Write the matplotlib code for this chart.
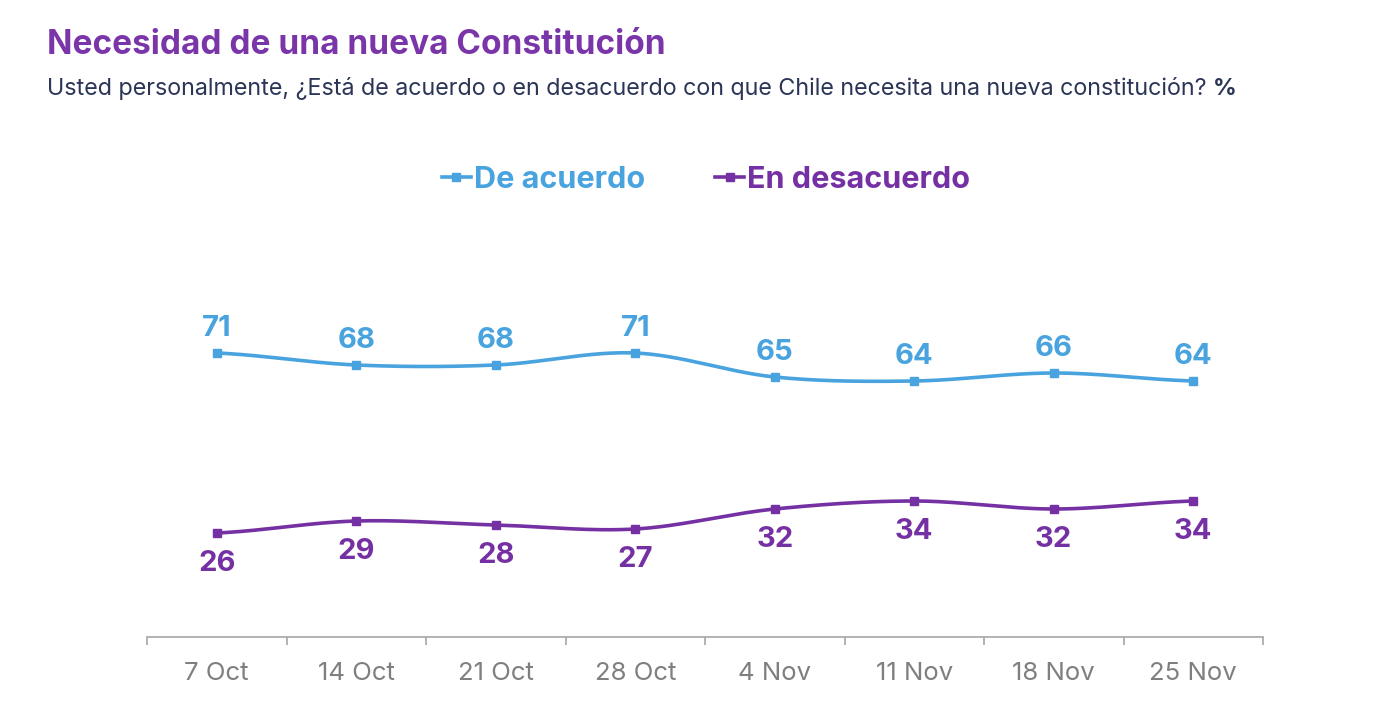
import numpy as np
import matplotlib
matplotlib.use("Agg")
import matplotlib.pyplot as plt
from matplotlib.lines import Line2D

plt.rcParams["font.family"] = ["Inter", "DejaVu Sans"]

dates = ["7 Oct", "14 Oct", "21 Oct", "28 Oct", "4 Nov", "11 Nov", "18 Nov", "25 Nov"]
de_acuerdo = [71, 68, 68, 71, 65, 64, 66, 64]
en_desacuerdo = [26, 29, 28, 27, 32, 34, 32, 34]

BLUE = "#48A3DE"
PURPLE = "#7531A3"
TITLE = "#7A35A8"
NAVY = "#2B3556"
GREY = "#7F7F7F"


def smooth(xs, ys, n=30):
    # catmull-rom through the points, just for the curved look
    xs = np.asarray(xs, float)
    ys = np.asarray(ys, float)
    px = np.concatenate([[2 * xs[0] - xs[1]], xs, [2 * xs[-1] - xs[-2]]])
    py = np.concatenate([[ys[0]], ys, [ys[-1]]])
    out_x, out_y = [], []
    t = np.linspace(0, 1, n)
    for i in range(1, len(px) - 2):
        for p, out in ((px, out_x), (py, out_y)):
            p0, p1, p2, p3 = p[i - 1], p[i], p[i + 1], p[i + 2]
            out.extend(0.5 * ((2 * p1) + (-p0 + p2) * t
                              + (2 * p0 - 5 * p1 + 4 * p2 - p3) * t ** 2
                              + (-p0 + 3 * p1 - 3 * p2 + p3) * t ** 3))
    return out_x, out_y


fig = plt.figure(figsize=(13.78, 7.11), dpi=100)
ax = fig.add_axes([147 / 1378, (711 - 637) / 711, 1116 / 1378, 400 / 711])

x = np.arange(len(dates))
for vals, col, off, va in ((de_acuerdo, BLUE, 8, "bottom"), (en_desacuerdo, PURPLE, -12, "top")):
    sx, sy = smooth(x, vals)
    ax.plot(sx, sy, color=col, lw=2.6, solid_capstyle="round")
    ax.plot(x, vals, ls="none", marker="s", ms=6, color=col)
    for xi, v in zip(x, vals):
        ax.annotate(str(v), (xi, v), xytext=(0, off), textcoords="offset points",
                    ha="center", va=va, fontsize=21, fontweight="bold", color=col)

ax.set_xlim(-0.5, len(dates) - 0.5)
ax.set_ylim(0, 100)
ax.set_xticks(np.arange(len(dates) + 1) - 0.5)
ax.set_xticklabels([])
ax.set_xticks(x, minor=True)
ax.set_xticklabels(dates, minor=True)
ax.tick_params(axis="x", which="major", length=6, width=1.2, color="#A6A6A6")
ax.tick_params(axis="x", which="minor", length=0, pad=18, labelsize=18.5, labelcolor=GREY)
ax.set_yticks([])
for s in ("top", "right", "left"):
    ax.spines[s].set_visible(False)
ax.spines["bottom"].set_color("#A6A6A6")
ax.spines["bottom"].set_linewidth(1.2)

fig.text(47 / 1378, 1 - 45 / 711, "Necesidad de una nueva Constitución", fontsize=24,
         fontweight="bold", color=TITLE, va="center", ha="left")
t = fig.text(47 / 1378, 1 - 89 / 711,
             "Usted personalmente, ¿Está de acuerdo o en desacuerdo con que Chile necesita una nueva constitución? ",
             fontsize=16.8, color=NAVY, va="center", ha="left")
fig.canvas.draw()
bb = t.get_window_extent()
fig.text(bb.x1 / 1378, 1 - 89 / 711, "%", fontsize=16.8, fontweight="bold",
         color=NAVY, va="center", ha="left")

handles = [Line2D([], [], color=BLUE, lw=2.6, marker="s", ms=6),
           Line2D([], [], color=PURPLE, lw=2.6, marker="s", ms=6)]
leg = fig.legend(handles, ["De acuerdo", "En desacuerdo"], loc="center",
                 bbox_to_anchor=(706 / 1378, 1 - 180 / 711), ncol=2, frameon=False,
                 handlelength=0.95, handletextpad=0.1, columnspacing=2.3,
                 prop={"size": 22, "weight": "bold"})
for txt, col in zip(leg.get_texts(), (BLUE, PURPLE)):
    txt.set_color(col)

fig.savefig("out.png", dpi=100, facecolor="white")
